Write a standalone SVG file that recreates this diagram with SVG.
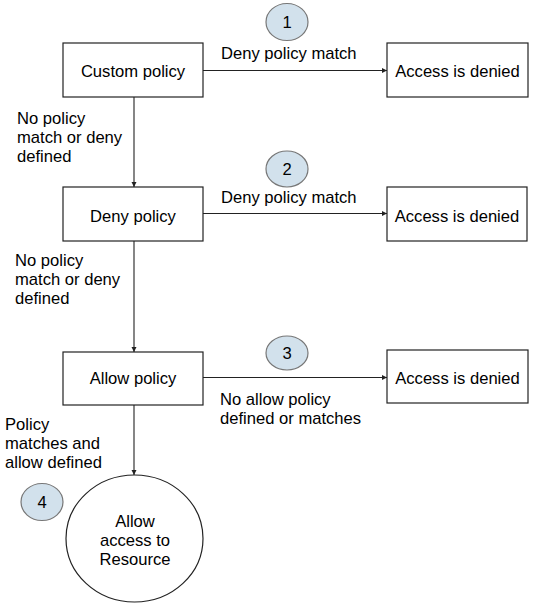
<svg xmlns="http://www.w3.org/2000/svg" width="552" height="613" viewBox="0 0 552 613">
<defs>
<style>
.box{fill:#fff;stroke:#222;stroke-width:1.2}
.badge{fill:#d2e1ec;stroke:#777;stroke-width:1.2}
text{font-family:"Liberation Sans",Arial,sans-serif;font-size:16.6px;fill:#000}
.c{text-anchor:middle}
.line{stroke:#222;stroke-width:1.1;fill:none;marker-end:url(#ah)}
</style>
<marker id="ah" markerWidth="6" markerHeight="6" refX="5" refY="3" orient="auto" markerUnits="userSpaceOnUse">
<path d="M0,0.5 L5,3 L0,5.5 Z" fill="#222"/>
</marker>
</defs>
<rect width="552" height="613" fill="#fff"/>
<g id="connectors">
<line class="line" x1="203" y1="70.5" x2="387" y2="70.5"/>
<line class="line" x1="134" y1="97" x2="134" y2="187"/>
<line class="line" x1="203" y1="213.5" x2="387" y2="213.5"/>
<line class="line" x1="134" y1="241" x2="134" y2="352"/>
<line class="line" x1="203" y1="377.5" x2="387" y2="377.5"/>
<line class="line" x1="134" y1="405" x2="134" y2="475"/>
<text x="221" y="59">Deny policy match</text>
<text x="17" y="124">No policy</text>
<text x="17" y="143">match or deny</text>
<text x="17" y="162">defined</text>
<text x="221" y="203">Deny policy match</text>
<text x="15" y="266">No policy</text>
<text x="15" y="285">match or deny</text>
<text x="15" y="304">defined</text>
<text x="220" y="405">No allow policy</text>
<text x="220" y="424">defined or matches</text>
<text x="5" y="430">Policy</text>
<text x="5" y="449">matches and</text>
<text x="5" y="468">allow defined</text>
</g>
<g id="custom-policy">
<rect class="box" x="63" y="43" width="140" height="54"/>
<text class="c" x="133" y="77">Custom policy</text>
</g>
<g id="denied-1">
<rect class="box" x="387" y="43" width="141" height="54"/>
<text class="c" x="457.5" y="77">Access is denied</text>
</g>
<g id="deny-policy">
<rect class="box" x="63" y="187" width="140" height="54"/>
<text class="c" x="133" y="222">Deny policy</text>
</g>
<g id="denied-2">
<rect class="box" x="387" y="187" width="140" height="54"/>
<text class="c" x="457" y="222">Access is denied</text>
</g>
<g id="allow-policy">
<rect class="box" x="63" y="352" width="140" height="53"/>
<text class="c" x="133" y="384">Allow policy</text>
</g>
<g id="denied-3">
<rect class="box" x="387" y="350" width="141" height="53"/>
<text class="c" x="457.5" y="384">Access is denied</text>
</g>
<g id="allow-access">
<ellipse class="box" cx="134.5" cy="538.5" rx="68.5" ry="63.5"/>
<text class="c" x="135" y="527">Allow</text>
<text class="c" x="135" y="546">access to</text>
<text class="c" x="135" y="565">Resource</text>
</g>
<g id="badge-1">
<ellipse class="badge" cx="287" cy="22" rx="21" ry="18.5"/>
<text class="c" x="287" y="28">1</text>
</g>
<g id="badge-2">
<ellipse class="badge" cx="287" cy="169" rx="21" ry="18"/>
<text class="c" x="287" y="175">2</text>
</g>
<g id="badge-3">
<ellipse class="badge" cx="287" cy="353" rx="21" ry="17"/>
<text class="c" x="287" y="359">3</text>
</g>
<g id="badge-4">
<ellipse class="badge" cx="42" cy="502" rx="21" ry="18.5"/>
<text class="c" x="42" y="508">4</text>
</g>
</svg>
